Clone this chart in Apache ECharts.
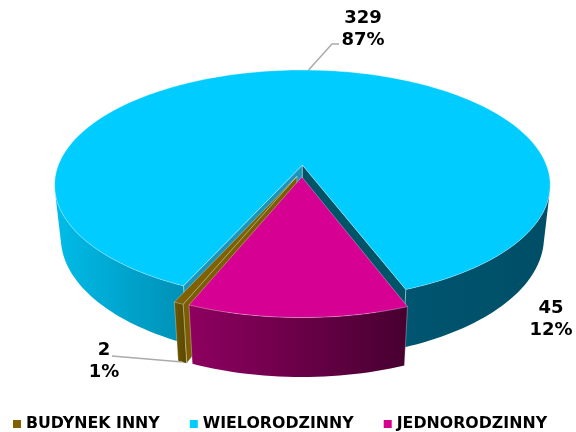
<!DOCTYPE html>
<html><head><meta charset="utf-8">
<style>html,body{margin:0;padding:0;background:#fff}#c{width:576px;height:432px}</style>
<script src="https://cdn.jsdelivr.net/npm/echarts@6/dist/echarts.min.js"></script>
</head><body><div id="c"></div>
<script>
const categories = ['BUDYNEK INNY', 'WIELORODZINNY', 'JEDNORODZINNY'];
const values = [2, 329, 45];
const percentLabels = ['1%', '87%', '12%'];
const firstSliceAngle = 202.3;
const topColors = ['#806000', '#00CCFF', '#D60093'];
const wallStops = [
  [[0, '#6E5600'], [1, '#5C4700']],
  [[0, '#00BCE8'], [0.25, '#0092B8'], [0.70, '#0090B4'], [0.705, '#005570'], [1, '#004E66']],
  [[0, '#8E0060'], [1, '#470030']]
];
const sideColors = [['#7A5E00', null], ['#1B96BA', '#005468'], [null, null]];
const labelBoxes = [[104, 349], [363, 17], [551, 307]];

const proj = {cx: 302, cy: 165, A: 244, B: 111.5, H: 53.3, k: 0.174, m: 0.025, r0: 0.0526};
const total = values.reduce((a, b) => a + b, 0);
function P(u, v, z) {
  const w = 1 - proj.k * v + proj.m * z;
  return [proj.cx + proj.A * u / w, proj.cy + (proj.B * v + proj.H * z) / w];
}
function sliceGeom(i) {
  let a0 = firstSliceAngle;
  for (let j = 0; j < i; j++) a0 += values[j] / total * 360;
  const a1 = a0 + values[i] / total * 360, mid = (a0 + a1) / 2;
  const rad = d => d * Math.PI / 180;
  const ou = Math.sin(rad(mid)) * proj.r0;
  const ov = -Math.cos(rad(mid)) * proj.r0 + proj.r0;
  const at = (deg, r, z) => P(ou + r * Math.sin(rad(deg)), ov - r * Math.cos(rad(deg)), z);
  return {a0, a1, mid, at};
}
const edge = {stroke: 'rgba(255,255,255,0.45)', lineWidth: 0.7, lineJoin: 'round'};
function poly(points, fill, extra) {
  return {type: 'polygon', shape: {points}, style: Object.assign({fill}, extra || edge), silent: true};
}
function arc(g, z) {
  const n = Math.max(3, Math.ceil((g.a1 - g.a0) / 1.5)), pts = [];
  for (let s = 0; s <= n; s++) pts.push(g.at(g.a0 + (g.a1 - g.a0) * s / n, 1, z));
  return pts;
}
function signedArea(pts) {
  let a = 0;
  pts.forEach((p, j) => { const q = pts[(j + 1) % pts.length]; a += p[0] * q[1] - q[0] * p[1]; });
  return a;
}
function frontRuns(top, bot) {
  const runs = [];
  let cur = null;
  for (let s = 0; s < top.length - 1; s++) {
    const front = signedArea([top[s], top[s + 1], bot[s + 1], bot[s]]) < 0;
    if (front) { if (!cur) { cur = [s, s + 1]; runs.push(cur); } else cur[1] = s + 1; }
    else cur = null;
  }
  return runs;
}
function renderSlice(i) {
  const g = sliceGeom(i), top = arc(g, 0), bot = arc(g, 1), kids = [];
  const apexT = g.at(0, 0, 0), apexB = g.at(0, 0, 1);
  if (sideColors[i][0]) kids.push(poly([apexT, top[0], bot[0], apexB], sideColors[i][0]));
  if (sideColors[i][1]) kids.push(poly([apexT, top[top.length - 1], bot[bot.length - 1], apexB], sideColors[i][1]));
  const xs = bot.concat(top).map(p => p[0]);
  const minX = Math.min.apply(null, xs), maxX = Math.max.apply(null, xs);
  const grad = new echarts.graphic.LinearGradient(minX, 0, maxX, 0,
    wallStops[i].map(s => ({offset: s[0], color: s[1]})), true);
  frontRuns(top, bot).forEach(r => {
    const t = top.slice(r[0], r[1] + 1), b = bot.slice(r[0], r[1] + 1).reverse();
    kids.push(poly(t.concat(b), grad, {stroke: 'none'}));
  });
  kids.push({type: 'polyline', silent: true, shape: {points: [top[0], bot[0]]}, style: Object.assign({fill: 'none'}, edge)});
  kids.push({type: 'polyline', silent: true, shape: {points: [top[top.length - 1], bot[bot.length - 1]]}, style: Object.assign({fill: 'none'}, edge)});
  kids.push(poly([apexT].concat(top), topColors[i]));
  return {type: 'group', children: kids};
}
function renderLabels() {
  const kids = [];
  values.forEach((val, i) => {
    const b = labelBoxes[i];
    kids.push({type: 'text', silent: true, style: {
      x: b[0], y: b[1] - 10, text: val + '\n' + percentLabels[i], align: 'center', verticalAlign: 'top',
      font: 'bold 18px "DejaVu Sans"', lineHeight: 22, fill: '#000'
    }});
  });
  const line = {stroke: '#ABABAB', lineWidth: 1.5, fill: 'none'};
  const gMain = sliceGeom(1), gB = sliceGeom(0);
  const pM = gMain.at(gMain.mid, 1, 0), pB = gB.at(gB.mid, 1, 1);
  kids.push({type: 'polyline', silent: true, shape: {points: [pM, [332, 44], [339, 44]]}, style: line});
  kids.push({type: 'polyline', silent: true, shape: {points: [[112, 356], pB]}, style: line});
  return {type: 'group', children: kids};
}
const series = [1, 0, 2].map(i => ({
  type: 'custom', name: categories[i], coordinateSystem: 'none', silent: true,
  itemStyle: {color: topColors[i]}, data: [values[i]], z: 2,
  animation: false, renderItem: () => renderSlice(i)
}));
series.push({type: 'custom', coordinateSystem: 'none', silent: true, data: [0], z: 3, animation: false, renderItem: renderLabels});
const chart = echarts.init(document.getElementById('c'), null, {renderer: 'canvas'});
chart.setOption({
  backgroundColor: '#fff', animation: false,
  legend: {
    data: categories, left: 8, top: 411, icon: 'rect', itemWidth: 8, itemHeight: 8, itemGap: 30,
    selectedMode: false, textStyle: {fontFamily: 'DejaVu Sans', fontWeight: 'bold', fontSize: 15.8, color: '#000'}
  },
  series
});
</script></body></html>
